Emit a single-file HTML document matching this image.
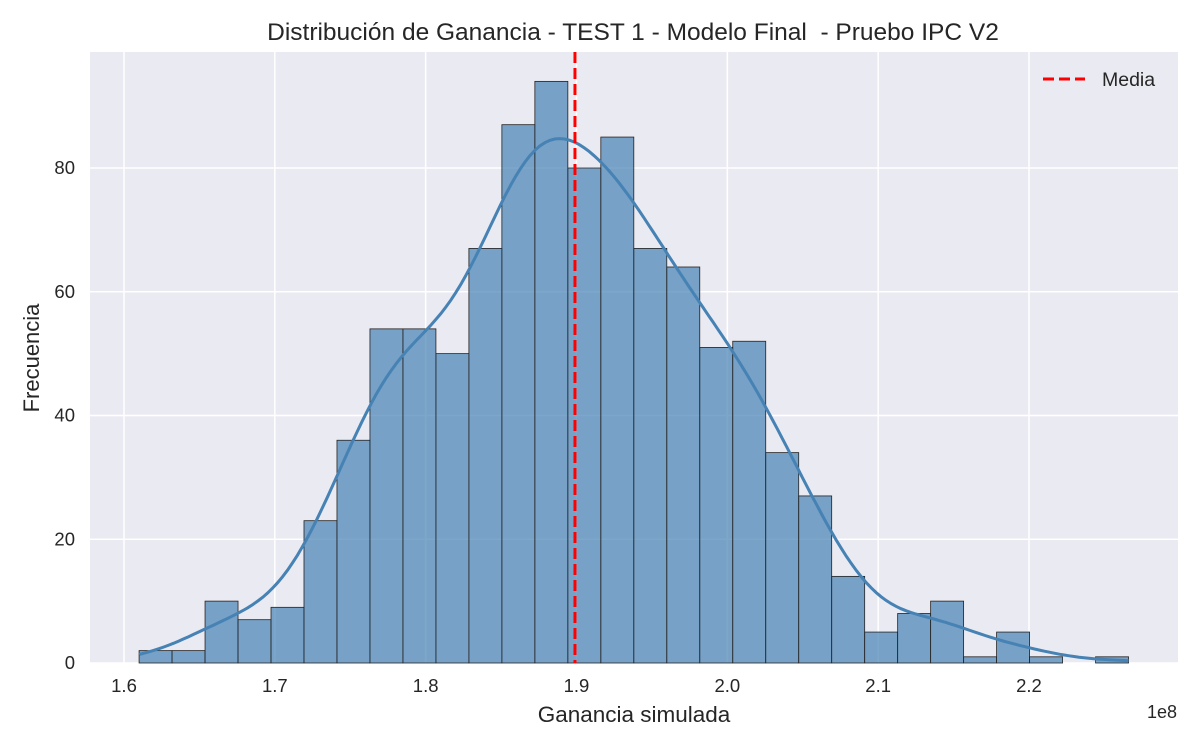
<!DOCTYPE html>
<html><head><meta charset="utf-8"><style>
body{margin:0;background:#fff;font-family:"Liberation Sans",sans-serif;}
svg text{font-family:"Liberation Sans",sans-serif;fill:#262626;}
</style></head><body>
<svg id="chart" width="1200" height="750">
<rect x="90" y="52" width="1088" height="611" fill="#eaeaf2"/>
<g id="grid"></g><g id="bars"></g><g id="kde"></g><g id="axes"></g>
<text x="633" y="40" text-anchor="middle" font-size="24.5">Distribución de Ganancia - TEST 1 - Modelo Final &#160;- Pruebo IPC V2</text>
<text x="634" y="722" text-anchor="middle" font-size="22.5">Ganancia simulada</text>
<text x="39" y="358" text-anchor="middle" font-size="22" transform="rotate(-90 39 358)">Frecuencia</text>
<text x="1177" y="718" text-anchor="end" font-size="18">1e8</text>
<g>
<line x1="1043" y1="79" x2="1085" y2="79" stroke="#ff0000" stroke-width="3" stroke-dasharray="11,5"/>
<text x="1102" y="86" font-size="19.5">Media</text>
</g>
</svg>
<script>
const counts=[2,2,10,7,9,23,36,54,54,50,67,87,94,80,85,67,64,51,52,34,27,14,5,8,10,1,5,1,0,1];
const binStart=1.610, binEnd=2.266;
const meanValue=1.899;
const xTicks=[1.6,1.7,1.8,1.9,2.0,2.1,2.2];
const yTicks=[0,20,40,60,80];
const NS="http://www.w3.org/2000/svg";
const X=v=>124+(v-1.6)*1508.3;
const Y=v=>663-v*6.1875;
function mk(t,a,p){const e=document.createElementNS(NS,t);for(const k in a)e.setAttribute(k,a[k]);p.appendChild(e);return e;}
const grid=document.getElementById('grid'),bars=document.getElementById('bars'),kde=document.getElementById('kde'),axes=document.getElementById('axes');
xTicks.forEach(t=>{
 const l=mk('line',{x1:X(t),x2:X(t),y1:52,y2:663,stroke:'#fff','stroke-width':1.5},grid);
 
 
 const tx=mk('text',{x:X(t),y:692,'text-anchor':'middle','font-size':18.5},axes);tx.textContent=t.toFixed(1);
 
 
});
yTicks.forEach(t=>{
 const l=mk('line',{x1:90,x2:1178,y1:Y(t),y2:Y(t),stroke:'#fff','stroke-width':1.5},grid);
 
 
 const tx=mk('text',{x:75,y:Y(t)+6,'text-anchor':'end','font-size':18.5},axes);tx.textContent=t;
 
 
});
const bw=(binEnd-binStart)/counts.length;
counts.forEach((c,i)=>{
 if(c<=0)return;
 const x0=X(binStart+i*bw),x1=X(binStart+(i+1)*bw);
 const r=mk('rect',{x:x0,y:Y(c),width:x1-x0,height:Y(0)-Y(c),fill:'rgba(70,130,180,0.7)',stroke:'#222','stroke-width':0.8},bars);
 
 
});
let n=0,m=0;counts.forEach((c,i)=>{n+=c;m+=c*(binStart+(i+.5)*bw);});m/=n;
let v=0;counts.forEach((c,i)=>{const d=binStart+(i+.5)*bw-m;v+=c*d*d;});const sd=Math.sqrt(v/n);
const h=1.06*sd*Math.pow(n,-0.2);
let pts=[];
for(let k=0;k<=200;k++){
 const xv=binStart+(binEnd-binStart)*k/200;let s=0;
 counts.forEach((c,i)=>{const z=(xv-(binStart+(i+.5)*bw))/h;s+=c*Math.exp(-z*z/2);});
 const dens=s/(n*h*Math.sqrt(2*Math.PI));
 pts.push(X(xv).toFixed(1)+','+Y(dens*n*bw).toFixed(1));
}
const p=mk('polyline',{points:pts.join(' '),fill:'none',stroke:'#4682b4','stroke-width':3},kde);


const ml=mk('line',{x1:X(meanValue),x2:X(meanValue),y1:52,y2:663,stroke:'#ff0000','stroke-width':3,'stroke-dasharray':'11,5'},kde);


</script>
</body></html>
